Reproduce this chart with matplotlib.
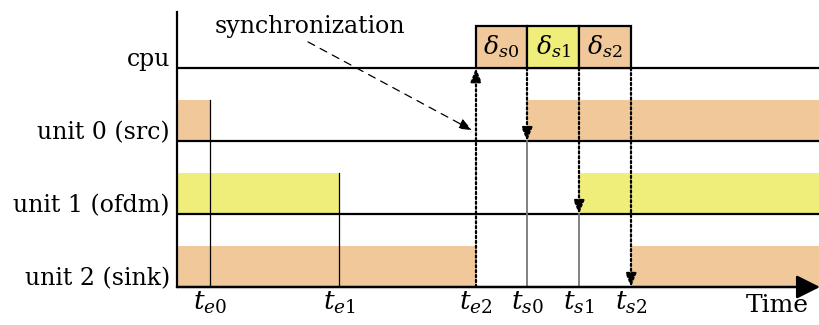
import numpy as np
import matplotlib.pyplot as plt
from matplotlib.transforms import blended_transform_factory

lanes = ['cpu', 'unit 0 (src)', 'unit 1 (ofdm)', 'unit 2 (sink)']
lane_y = [3.0, 2.0, 1.0, 0.0]
unit_colors = ['#f0c89a', '#f0ee7a', '#f0c89a']
t_e = [0.33, 1.62, 2.99]          # end of previous execution per unit
t_s = [3.50, 4.02, 4.54]          # start of next execution per unit
t_max = 6.43
bar_h = 0.56
te_labels = [r'$t_{e0}$', r'$t_{e1}$', r'$t_{e2}$']
ts_labels = [r'$t_{s0}$', r'$t_{s1}$', r'$t_{s2}$']
delta_labels = [r'$\delta_{s0}$', r'$\delta_{s1}$', r'$\delta_{s2}$']

plt.rcParams['font.family'] = 'DejaVu Serif'
plt.rcParams['mathtext.fontset'] = 'dejavuserif'

fig = plt.figure(figsize=(8.2, 3.25), dpi=100)
ax = fig.add_axes([177 / 820, 38 / 325, 643 / 820, 275 / 325])
ax.set_xlim(0, t_max)
ax.set_ylim(0, 3.77)

# unit bars
for i in range(3):
    y = lane_y[i + 1]
    ax.broken_barh([(0, t_e[i]), (t_s[i], t_max - t_s[i])], (y, bar_h),
                   facecolors=unit_colors[i], edgecolor='none', zorder=1)

# cpu synchronization boxes
starts = [t_e[2]] + t_s[:2]
for i in range(3):
    ax.bar(starts[i], bar_h + 0.02, width=t_s[i] - starts[i], bottom=lane_y[0],
           align='edge', color=unit_colors[i], edgecolor='black', lw=1.6, zorder=3)
    ax.text((starts[i] + t_s[i]) / 2, lane_y[0] + 0.3, delta_labels[i],
            ha='center', va='center', fontsize=18, zorder=4)

# lane baselines
for y in lane_y[:3]:
    ax.plot([0, t_max], [y, y], color='black', lw=1.6, zorder=2)

# thin vertical markers
for i in range(2):
    ax.plot([t_e[i], t_e[i]], [0, lane_y[i + 1] + bar_h], color='black', lw=0.9, zorder=2)
for i in range(2):
    ax.plot([t_s[i], t_s[i]], [0, lane_y[i + 1]], color='#777777', lw=1.3, zorder=2)

# dotted arrows
dot = dict(arrowstyle='-|>,head_length=0.5,head_width=0.2', linestyle=(0, (1, 1.2)),
           lw=1.6, color='black', mutation_scale=16, shrinkA=0, shrinkB=0)
ax.annotate('', xy=(t_e[2], lane_y[0]), xytext=(t_e[2], 0), arrowprops=dot, zorder=5)
for i in range(3):
    ax.annotate('', xy=(t_s[i], lane_y[i + 1]), xytext=(t_s[i], lane_y[0]),
                arrowprops=dot, zorder=5)

# synchronization annotation
ax.annotate('', xy=(2.95, 2.15), xytext=(1.31, 3.36),
            arrowprops=dict(arrowstyle='-|>,head_length=0.5,head_width=0.2',
                            linestyle=(0, (6, 5)), lw=0.9,
                            color='black', mutation_scale=16, shrinkA=0, shrinkB=0))
ax.text(1.33, 3.57, 'synchronization', ha='center', va='center', fontsize=17)

# axes
for s in ['top', 'right', 'bottom']:
    ax.spines[s].set_visible(False)
ax.spines['left'].set_linewidth(1.6)
ax.annotate('', xy=(t_max, 0), xytext=(0, 0),
            arrowprops=dict(arrowstyle='-|>,head_length=0.6,head_width=0.3', lw=1.8,
                            color='black', mutation_scale=24, shrinkA=0, shrinkB=0),
            annotation_clip=False, zorder=6)

ax.set_yticks([])
ax.set_xticks(t_e + t_s)
ax.set_xticklabels(te_labels + ts_labels, fontsize=19)
ax.tick_params(axis='x', length=0, pad=2)

trans = blended_transform_factory(fig.transFigure, ax.transData)
for name, y in zip(lanes, lane_y):
    ax.text(170 / 820, y + 0.12, name, transform=trans, ha='right', va='center', fontsize=17)
ax.text(6.0, -0.09, 'Time', ha='center', va='top', fontsize=18)

fig.savefig('out.png', dpi=100)
